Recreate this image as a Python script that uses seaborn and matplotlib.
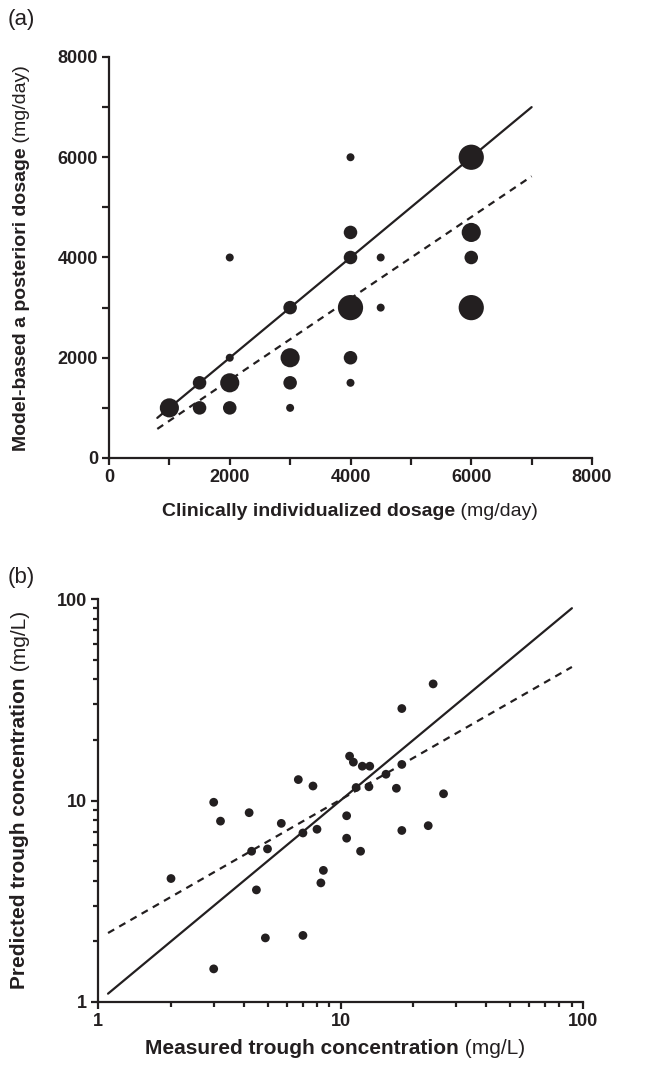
import numpy as np
import pandas as pd
import matplotlib
matplotlib.use("Agg")
import matplotlib.pyplot as plt
import matplotlib.ticker as mticker
import seaborn as sns

# (a) clinically individualized vs model-based dosage (mg/day), marker size = number of patients
clinical_dose = [1000, 1500, 1500, 2000, 2000, 2000, 2000, 3000, 3000, 3000, 3000,
                 4000, 4000, 4000, 4000, 4000, 4000, 4500, 4500, 6000, 6000, 6000, 6000]
model_dose = [1000, 1500, 1000, 4000, 2000, 1500, 1000, 3000, 2000, 1500, 1000,
              6000, 4500, 4000, 3000, 2000, 1500, 4000, 3000, 6000, 4500, 4000, 3000]
n_patients = [4, 2, 2, 1, 1, 4, 2, 2, 4, 2, 1,
              1, 2, 2, 8, 2, 1, 1, 1, 8, 4, 2, 8]

# reference lines in (a)
line_a_x = [800, 7000]
identity_a_y = [800, 7000]
fit_a_y = [580, 5620]

# (b) measured vs predicted trough concentration (mg/L)
measured = [2.0, 3.0, 3.0, 3.2, 4.2, 4.3, 4.5, 4.9, 5.0, 5.7, 6.7, 7.0, 7.0, 7.7,
            8.0, 8.3, 8.5, 10.6, 10.6, 10.9, 11.3, 11.6, 12.1, 12.3, 13.2, 13.1,
            15.4, 17.0, 17.9, 17.9, 17.9, 23.0, 24.1, 26.6]
predicted = [4.1, 9.8, 1.46, 7.9, 8.7, 5.6, 3.6, 2.08, 5.75, 7.7, 12.7, 6.9, 2.14, 11.8,
             7.2, 3.9, 4.5, 8.4, 6.5, 16.6, 15.5, 11.6, 5.6, 14.8, 14.8, 11.7,
             13.5, 11.5, 15.1, 28.6, 7.1, 7.5, 37.9, 10.8]

# reference lines in (b)
line_b_x = [1.1, 90]
identity_b_y = [1.1, 90]
fit_b_y = [2.2, 46]

ink = "#231f20"
sns.set_style("ticks")
plt.rcParams["font.family"] = ["Liberation Sans", "DejaVu Sans"]

fig = plt.figure(figsize=(6.61, 10.69), dpi=100)
ax_a = fig.add_axes([109 / 661, 1 - 458 / 1069, 483 / 661, 401 / 1069])
ax_b = fig.add_axes([98 / 661, 1 - 1002 / 1069, 485 / 661, 403 / 1069])

df_a = pd.DataFrame({"clinical": clinical_dose, "model": model_dose, "n": n_patients})
size_map = {1: 33, 2: 95, 4: 190, 8: 330}
sns.scatterplot(data=df_a, x="clinical", y="model", size="n", sizes=size_map,
                color=ink, edgecolor="none", legend=False, ax=ax_a, zorder=3)
sns.lineplot(x=line_a_x, y=identity_a_y, color=ink, lw=1.6, ax=ax_a)
sns.lineplot(x=line_a_x, y=fit_a_y, color=ink, lw=1.6, ax=ax_a, linestyle=(0, (3.2, 2.6)))

ax_a.set_xlim(0, 8000)
ax_a.set_ylim(0, 8000)
ax_a.xaxis.set_major_locator(mticker.MultipleLocator(2000))
ax_a.xaxis.set_minor_locator(mticker.MultipleLocator(1000))
ax_a.yaxis.set_major_locator(mticker.MultipleLocator(2000))
ax_a.yaxis.set_minor_locator(mticker.MultipleLocator(1000))

df_b = pd.DataFrame({"measured": measured, "predicted": predicted})
sns.scatterplot(data=df_b, x="measured", y="predicted", s=40, color=ink,
                edgecolor="none", ax=ax_b, zorder=3)
sns.lineplot(x=line_b_x, y=identity_b_y, color=ink, lw=1.6, ax=ax_b)
sns.lineplot(x=line_b_x, y=fit_b_y, color=ink, lw=1.6, ax=ax_b, linestyle=(0, (3.2, 2.6)))
ax_b.set_xscale("log")
ax_b.set_yscale("log")
ax_b.set_xlim(1, 100)
ax_b.set_ylim(1, 100)
ax_b.xaxis.set_major_formatter(mticker.FuncFormatter(lambda v, p: f"{v:g}"))
ax_b.yaxis.set_major_formatter(mticker.FuncFormatter(lambda v, p: f"{v:g}"))
ax_b.xaxis.set_minor_formatter(mticker.NullFormatter())
ax_b.yaxis.set_minor_formatter(mticker.NullFormatter())

for ax in (ax_a, ax_b):
    sns.despine(ax=ax)
    ax.set_xlabel("")
    ax.set_ylabel("")
    for s in ("left", "bottom"):
        ax.spines[s].set_linewidth(1.6)
        ax.spines[s].set_color(ink)
    ax.tick_params(which="major", length=5, width=1.6, color=ink, labelsize=13,
                   labelcolor=ink, pad=3)
    ax.tick_params(which="minor", length=5 if ax is ax_a else 3.5, width=1.6, color=ink)
    for lab in ax.get_xticklabels() + ax.get_yticklabels():
        lab.set_fontweight("bold")

fig.canvas.draw()
renderer = fig.canvas.get_renderer()


def mixed_label(x, y, bold, regular, rotation=0, size=14):
    # bold part followed by regular part, centred at (x, y) in figure pixels
    t1 = fig.text(0, 0, bold, fontsize=size, fontweight="bold", color=ink,
                  rotation=rotation, va="center", ha="left", transform=None)
    t2 = fig.text(0, 0, " " + regular, fontsize=size, color=ink,
                  rotation=rotation, va="center", ha="left", transform=None)
    b1 = t1.get_window_extent(renderer)
    b2 = t2.get_window_extent(renderer)
    H = fig.bbox.height
    if rotation == 0:
        total = b1.width + b2.width
        x0 = x - total / 2
        t1.set_position((x0, H - y))
        t2.set_position((x0 + b1.width, H - y))
    else:
        total = b1.height + b2.height
        y0 = (H - y) - total / 2
        t1.set_ha("center")
        t2.set_ha("center")
        t1.set_va("bottom")
        t2.set_va("bottom")
        t1.set_position((x, y0))
        t2.set_position((x, y0 + b1.height))


mixed_label(350, 512, "Clinically individualized dosage", "(mg/day)", size=14)
mixed_label(22, 258, "Model-based a posteriori dosage", "(mg/day)", rotation=90, size=14)
mixed_label(335, 1048, "Measured trough concentration", "(mg/L)", size=15)
mixed_label(20, 800, "Predicted trough concentration", "(mg/L)", rotation=90, size=15)

fig.text(8 / 661, 1 - 20 / 1069, "(a)", fontsize=16, color=ink, va="center", ha="left")
fig.text(8 / 661, 1 - 578 / 1069, "(b)", fontsize=16, color=ink, va="center", ha="left")

fig.savefig("out.png", dpi=100, facecolor="white")
